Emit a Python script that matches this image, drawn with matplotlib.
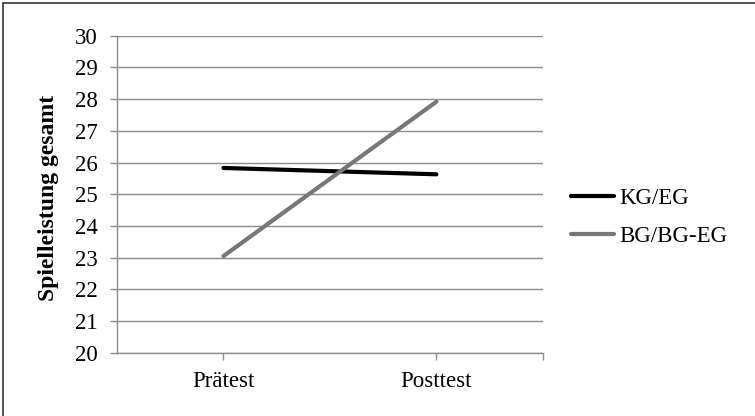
import matplotlib.pyplot as plt
from matplotlib.patches import Rectangle

categories = ['Prätest', 'Posttest']
kg_eg = [25.83, 25.63]
bg_bgeg = [23.05, 27.92]
series_labels = ['KG/EG', 'BG/BG-EG']
yticks = list(range(20, 31))

plt.rcParams['font.family'] = ['Liberation Serif', 'DejaVu Serif']

fig = plt.figure(figsize=(7.55, 4.16), dpi=100)
ax = fig.add_axes([0.155, 0.152, 0.564, 0.762])

x = list(range(len(categories)))
ax.plot(x, kg_eg, color='black', lw=3, solid_capstyle='round', label=series_labels[0], zorder=3)
ax.plot(x, bg_bgeg, color='#777777', lw=3, solid_capstyle='round', label=series_labels[1], zorder=3)

ax.set_xlim(-0.5, 1.5)
ax.set_ylim(20, 30)
ax.set_yticks(yticks)
ax.set_yticklabels([str(v) for v in yticks], fontsize=16.5)
ax.set_xticks(x + [1.5])
ax.set_xticklabels(categories + [''], fontsize=16.5)
ax.grid(axis='y', color='#8c8c8c', lw=1)
ax.set_axisbelow(True)

for s in ['top', 'right']:
    ax.spines[s].set_visible(False)
for s in ['left', 'bottom']:
    ax.spines[s].set_color('#8c8c8c')
    ax.spines[s].set_linewidth(1)
ax.tick_params(axis='y', length=5, width=1, color='#8c8c8c', pad=9)
ax.tick_params(axis='x', length=5, width=1, color='#8c8c8c', pad=8)

ax.set_ylabel('Spielleistung gesamt', fontsize=17, fontweight='bold')
ax.yaxis.set_label_coords(-0.136, 0.49)

leg = ax.legend(loc='center left', bbox_to_anchor=(1.065, 0.427), frameon=False,
                borderaxespad=0, borderpad=0,
                fontsize=16.5, handlelength=1.9, handletextpad=0.25, labelspacing=0.75)

fig.patches.append(Rectangle((2.5 / 755, -0.5), 1.5, 1.5 - 2.5 / 416,
                             transform=fig.transFigure, fill=False,
                             edgecolor='#333333', lw=1.2))

fig.savefig('out.png', dpi=100)
